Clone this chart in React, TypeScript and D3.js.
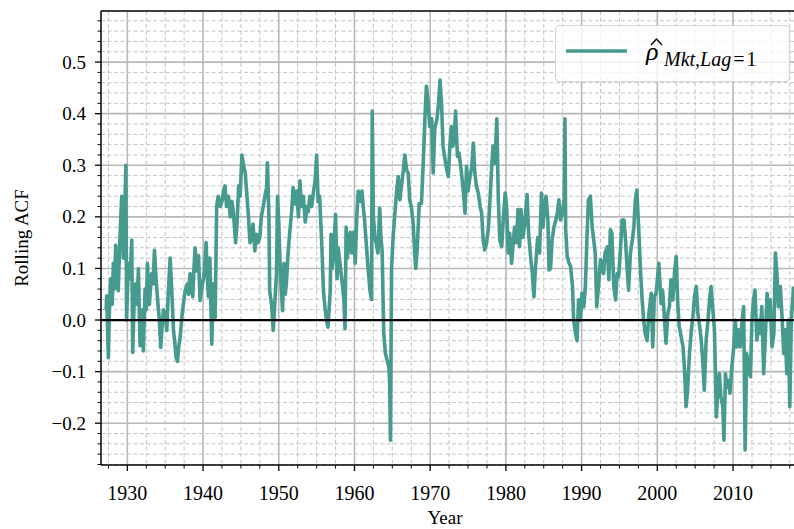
import React, { useEffect, useRef } from "react";
import * as d3 from "d3";

// Rolling lag-1 autocorrelation of the market return
// points are [year, acf]
const acf1927 = [
  [1927.2, 0.02], [1927.27, 0.047], [1927.49, -0.073], [1927.65, 0.03], [1927.8, 0.08],
  [1928.0, 0.03], [1928.15, 0.11], [1928.3, 0.06], [1928.46, 0.145], [1928.6, 0.09],
  [1928.8, 0.057], [1929.0, 0.15], [1929.25, 0.24], [1929.48, 0.12], [1929.65, 0.2],
  [1929.8, 0.3], [1929.9, 0.0], [1930.14, 0.11], [1930.35, 0.08], [1930.58, 0.155],
  [1930.71, -0.063], [1930.9, 0.04], [1931.1, 0.07], [1931.3, 0.03], [1931.46, 0.1],
  [1931.68, -0.05], [1931.85, 0.0], [1932.0, 0.02], [1932.12, -0.06], [1932.34, 0.06],
  [1932.5, 0.02], [1932.65, 0.11], [1932.91, 0.03], [1933.05, 0.06], [1933.22, 0.09],
  [1933.4, 0.07], [1933.58, 0.135], [1933.75, 0.09], [1933.89, 0.06], [1934.05, 0.03],
  [1934.2, 0.005], [1934.41, -0.053], [1934.6, -0.01], [1934.77, 0.02], [1935.0, 0.01],
  [1935.2, -0.02], [1935.4, 0.05], [1935.65, 0.12], [1935.87, 0.057], [1936.09, -0.02],
  [1936.25, -0.04], [1936.44, -0.073], [1936.62, -0.08], [1936.8, -0.05], [1936.97, -0.034],
  [1937.19, 0.005], [1937.4, 0.03], [1937.63, 0.057], [1937.94, 0.07], [1938.1, 0.05],
  [1938.29, 0.09], [1938.45, 0.07], [1938.64, 0.045], [1938.8, 0.1], [1938.95, 0.14],
  [1939.17, 0.095], [1939.4, 0.125], [1939.6, 0.038], [1939.8, 0.06], [1940.05, 0.08],
  [1940.2, 0.1], [1940.4, 0.15], [1940.55, 0.09], [1940.7, 0.045], [1940.9, 0.12],
  [1941.15, -0.047], [1941.37, 0.07], [1941.6, 0.005], [1941.8, 0.22],
];

const acf1942 = [
  [1942.0, 0.24], [1942.26, 0.22], [1942.5, 0.23], [1942.7, 0.25], [1942.9, 0.26],
  [1943.1, 0.22], [1943.35, 0.24], [1943.6, 0.2], [1943.8, 0.23], [1944.0, 0.21],
  [1944.3, 0.15], [1944.5, 0.19], [1944.7, 0.26], [1944.9, 0.24], [1945.13, 0.32],
  [1945.35, 0.3], [1945.57, 0.285], [1945.8, 0.24], [1946.0, 0.2], [1946.2, 0.15],
  [1946.4, 0.16], [1946.6, 0.186], [1946.84, 0.134], [1947.06, 0.166], [1947.28, 0.15],
  [1947.5, 0.16], [1947.7, 0.2], [1947.95, 0.22], [1948.17, 0.24], [1948.4, 0.257],
  [1948.5, 0.305], [1948.7, 0.2], [1948.8, 0.057], [1949.05, 0.03], [1949.27, -0.02],
  [1949.5, 0.037], [1949.7, 0.09], [1949.84, 0.24],
];

const acf1950 = [
  [1950.0, 0.19], [1950.15, 0.12], [1950.3, 0.07], [1950.5, 0.018], [1950.7, 0.11],
  [1950.85, 0.05], [1951.0, 0.07], [1951.25, 0.134], [1951.45, 0.17], [1951.7, 0.21],
  [1951.9, 0.257], [1952.1, 0.225], [1952.35, 0.25], [1952.6, 0.2], [1952.8, 0.27],
  [1953.0, 0.22], [1953.25, 0.24], [1953.5, 0.19], [1953.7, 0.22], [1953.9, 0.21],
  [1954.1, 0.24], [1954.35, 0.22], [1954.6, 0.25], [1954.8, 0.27], [1955.0, 0.32],
  [1955.2, 0.23], [1955.4, 0.24], [1955.7, 0.14], [1955.9, 0.057], [1956.1, 0.025],
  [1956.3, 0.0], [1956.5, -0.014], [1956.8, 0.057], [1956.9, 0.166], [1957.05, 0.1],
  [1957.2, 0.12], [1957.5, 0.205], [1957.7, 0.08], [1957.85, 0.14], [1958.0, 0.12],
  [1958.2, 0.095], [1958.4, 0.07], [1958.6, 0.04], [1958.75, -0.017], [1958.9, 0.18],
  [1959.05, 0.12], [1959.2, 0.147], [1959.45, 0.17], [1959.6, 0.13], [1959.85, 0.17],
  [1960.1, 0.11], [1960.3, 0.2], [1960.5, 0.25], [1960.75, 0.23], [1961.0, 0.25],
  [1961.15, 0.22], [1961.3, 0.2], [1961.6, 0.14], [1961.8, 0.1], [1962.05, 0.057],
  [1962.25, 0.04],
];

const acf1962 = [
  [1962.35, 0.405], [1962.5, 0.2], [1962.7, 0.16], [1962.9, 0.147], [1963.1, 0.13],
  [1963.33, 0.217], [1963.5, 0.16], [1963.65, 0.135], [1963.87, -0.026], [1964.09, -0.065],
  [1964.31, -0.078], [1964.53, -0.09], [1964.65, -0.12], [1964.75, -0.233], [1964.9, 0.1],
  [1965.1, 0.16], [1965.3, 0.2], [1965.55, 0.246], [1965.77, 0.278], [1966.0, 0.233],
  [1966.2, 0.26], [1966.45, 0.29], [1966.65, 0.32], [1966.9, 0.29], [1967.1, 0.285],
  [1967.3, 0.233], [1967.5, 0.22], [1967.75, 0.188], [1967.97, 0.123], [1968.1, 0.1],
  [1968.3, 0.14], [1968.55, 0.226], [1968.85, 0.226], [1969.1, 0.31], [1969.3, 0.39],
  [1969.5, 0.453], [1969.7, 0.427], [1969.95, 0.375],
];

const acf1970 = [
  [1970.2, 0.39], [1970.4, 0.285], [1970.6, 0.37], [1970.9, 0.39], [1971.1, 0.42],
  [1971.3, 0.465], [1971.5, 0.42], [1971.7, 0.337], [1971.9, 0.317], [1972.2, 0.29],
  [1972.4, 0.278], [1972.6, 0.337], [1972.8, 0.375], [1973.0, 0.337], [1973.2, 0.36],
  [1973.35, 0.405], [1973.6, 0.317], [1973.8, 0.324], [1974.1, 0.29], [1974.4, 0.246],
  [1974.6, 0.207], [1974.8, 0.298], [1975.0, 0.25], [1975.2, 0.272], [1975.5, 0.298],
  [1975.7, 0.343], [1975.9, 0.285], [1976.1, 0.26], [1976.35, 0.246], [1976.6, 0.22],
  [1976.8, 0.207], [1977.0, 0.155], [1977.2, 0.136], [1977.45, 0.149], [1977.7, 0.18],
  [1977.9, 0.233], [1978.1, 0.29], [1978.3, 0.337], [1978.55, 0.304], [1978.8, 0.39],
  [1979.0, 0.233], [1979.2, 0.155], [1979.45, 0.142], [1979.65, 0.194], [1979.9, 0.246],
  [1980.1, 0.22], [1980.3, 0.13], [1980.5, 0.168], [1980.75, 0.11], [1981.0, 0.155],
];

const acf1981 = [
  [1981.15, 0.18], [1981.4, 0.15], [1981.6, 0.214], [1981.8, 0.142], [1982.0, 0.214],
  [1982.25, 0.16], [1982.5, 0.188], [1982.8, 0.243], [1983.0, 0.168], [1983.3, 0.117],
  [1983.5, 0.09], [1983.7, 0.045], [1983.9, 0.1], [1984.2, 0.16], [1984.45, 0.13],
  [1984.7, 0.246], [1984.9, 0.18], [1985.1, 0.22], [1985.3, 0.24], [1985.55, 0.194],
  [1985.7, 0.097], [1985.9, 0.1], [1986.1, 0.155], [1986.35, 0.18], [1986.6, 0.194],
  [1986.8, 0.207], [1987.0, 0.233], [1987.2, 0.194], [1987.45, 0.207], [1987.7, 0.233],
  [1987.8, 0.39], [1987.9, 0.175], [1988.1, 0.123], [1988.35, 0.11], [1988.55, 0.104],
  [1988.8, 0.065], [1988.95, 0.0], [1989.2, -0.026], [1989.4, -0.04], [1989.6, 0.039],
  [1989.85, 0.0],
];

const acf1990 = [
  [1990.05, 0.052], [1990.3, 0.026], [1990.5, 0.065], [1990.7, 0.155], [1990.9, 0.233],
  [1991.15, 0.24], [1991.4, 0.18], [1991.6, 0.155], [1991.8, 0.13], [1992.0, 0.026],
  [1992.3, 0.078], [1992.5, 0.117], [1992.7, 0.104], [1992.9, 0.09], [1993.1, 0.13],
  [1993.4, 0.142], [1993.6, 0.078], [1993.8, 0.175], [1994.0, 0.168], [1994.25, 0.065],
  [1994.5, 0.039], [1994.7, 0.09], [1994.9, 0.084], [1995.1, 0.13], [1995.35, 0.194],
  [1995.6, 0.194], [1995.8, 0.155], [1996.0, 0.104], [1996.2, 0.058], [1996.45, 0.13],
  [1996.7, 0.155], [1996.9, 0.18], [1997.1, 0.233], [1997.3, 0.252], [1997.55, 0.175],
  [1997.8, 0.09], [1998.0, 0.039], [1998.2, 0.0], [1998.4, -0.026], [1998.65, -0.04],
  [1998.9, 0.013], [1999.2, 0.052], [1999.4, -0.052], [1999.6, 0.045], [1999.85, 0.052],
];

const acf2000 = [
  [2000.2, 0.11], [2000.5, 0.032], [2000.7, 0.058], [2000.9, 0.013], [2001.15, -0.045],
  [2001.4, 0.013], [2001.6, 0.026], [2001.8, 0.078], [2002.05, 0.039], [2002.3, 0.097],
  [2002.5, 0.123], [2002.7, 0.032], [2002.9, -0.013], [2003.15, -0.032], [2003.4, -0.052],
  [2003.6, -0.097], [2003.8, -0.168], [2004.0, -0.136], [2004.25, -0.065], [2004.5, -0.019],
  [2004.7, 0.006], [2004.9, 0.045], [2005.15, 0.065], [2005.35, 0.013], [2005.6, -0.013],
  [2005.8, -0.039], [2006.0, -0.078], [2006.2, -0.136], [2006.45, -0.039], [2006.7, 0.0],
  [2006.9, 0.039], [2007.1, 0.065], [2007.3, 0.026], [2007.55, -0.019], [2007.8, -0.188],
  [2008.0, -0.13], [2008.2, -0.104], [2008.4, -0.149], [2008.65, -0.168], [2008.8, -0.233],
  [2009.0, -0.104], [2009.2, -0.13], [2009.4, -0.117], [2009.6, -0.142], [2009.85, -0.09],
];

const acf2010 = [
  [2010.1, -0.052], [2010.3, 0.0], [2010.5, -0.052], [2010.7, -0.019], [2010.95, -0.052],
  [2011.2, 0.0], [2011.4, 0.026], [2011.6, -0.252], [2011.8, -0.065], [2012.05, -0.09],
  [2012.3, -0.11], [2012.5, 0.0], [2012.7, 0.039], [2012.9, 0.058], [2013.15, -0.039],
  [2013.4, 0.0], [2013.6, -0.026], [2013.8, 0.026], [2014.05, -0.104], [2014.25, -0.039],
  [2014.5, 0.052], [2014.7, 0.0], [2014.9, 0.039], [2015.15, -0.052], [2015.4, -0.026],
  [2015.6, 0.13], [2015.8, 0.09], [2016.0, 0.026], [2016.25, 0.065], [2016.5, 0.0],
  [2016.7, -0.065], [2016.9, -0.019], [2017.1, -0.104], [2017.3, 0.0], [2017.5, -0.168],
  [2017.7, 0.0], [2018.0, 0.065],
];

const series = [
  ...acf1927, ...acf1942, ...acf1950, ...acf1962, ...acf1970,
  ...acf1981, ...acf1990, ...acf2000, ...acf2010,
];

const xTicks = [1930, 1940, 1950, 1960, 1970, 1980, 1990, 2000, 2010];
const yTicks = [-0.2, -0.1, 0.0, 0.1, 0.2, 0.3, 0.4, 0.5];

const W = 794;
const H = 529;
const plot = { left: 101, right: 801, top: 11, bottom: 465 };
const lineColor = "#469a8e";
const font = "'Liberation Serif', 'DejaVu Serif', serif";

const App = () => {
  const svgRef = useRef<SVGSVGElement>(null);

  useEffect(() => {
    document.body.style.margin = "0";
    const svg = d3.select(svgRef.current);
    svg.selectAll("*").remove();

    const x = d3.scaleLinear().domain([1926.52, 2018.98]).range([plot.left, plot.right]);
    const y = d3.scaleLinear().domain([-0.281, 0.599]).range([plot.bottom, plot.top]);

    svg.append("rect").attr("width", W).attr("height", H).attr("fill", "#fff");

    svg.append("defs").append("clipPath").attr("id", "plotclip")
      .append("rect")
      .attr("x", plot.left).attr("y", plot.top)
      .attr("width", plot.right - plot.left).attr("height", plot.bottom - plot.top);

    // minor ticks: every 2.5 years / every 0.02
    const xMinor = d3.range(1927.5, 2019, 2.5).filter((d) => d % 10 !== 0);
    const yMinor = d3.range(-28, 60, 2).filter((d) => d % 10 !== 0).map((d) => d / 100);

    const grid = svg.append("g").attr("clip-path", "url(#plotclip)");

    grid.selectAll(".xminor").data(xMinor).enter().append("line")
      .attr("x1", (d) => x(d)).attr("x2", (d) => x(d))
      .attr("y1", plot.top).attr("y2", plot.bottom)
      .attr("stroke", "#c4c4c4").attr("stroke-width", 1)
      .attr("stroke-dasharray", "4,2.5");

    grid.selectAll(".yminor").data(yMinor).enter().append("line")
      .attr("x1", plot.left).attr("x2", plot.right)
      .attr("y1", (d) => y(d)).attr("y2", (d) => y(d))
      .attr("stroke", "#c4c4c4").attr("stroke-width", 1)
      .attr("stroke-dasharray", "4,2.5");

    grid.selectAll(".xmajor").data(xTicks).enter().append("line")
      .attr("x1", (d) => x(d)).attr("x2", (d) => x(d))
      .attr("y1", plot.top).attr("y2", plot.bottom)
      .attr("stroke", "#b8b8b8").attr("stroke-width", 1.6);

    grid.selectAll(".ymajor").data(yTicks).enter().append("line")
      .attr("x1", plot.left).attr("x2", plot.right)
      .attr("y1", (d) => y(d)).attr("y2", (d) => y(d))
      .attr("stroke", "#b8b8b8").attr("stroke-width", 1.6);

    // series
    const line = d3.line<number[]>()
      .x((d) => x(d[0]))
      .y((d) => y(d[1]));

    grid.append("path")
      .datum(series)
      .attr("fill", "none")
      .attr("stroke", lineColor)
      .attr("stroke-width", 3.6)
      .attr("stroke-linejoin", "round")
      .attr("d", line);

    // zero line
    grid.append("line")
      .attr("x1", plot.left).attr("x2", plot.right)
      .attr("y1", y(0)).attr("y2", y(0))
      .attr("stroke", "#000").attr("stroke-width", 2.2);

    // spines
    const spines = svg.append("g").attr("stroke", "#000").attr("stroke-width", 1.5);
    spines.append("line").attr("x1", plot.left).attr("x2", plot.left)
      .attr("y1", plot.top).attr("y2", plot.bottom);
    spines.append("line").attr("x1", plot.left).attr("x2", W)
      .attr("y1", plot.top).attr("y2", plot.top);
    spines.append("line").attr("x1", plot.left).attr("x2", W)
      .attr("y1", plot.bottom).attr("y2", plot.bottom);

    // x axis ticks and labels
    const xAxis = svg.append("g");
    xAxis.selectAll(".xt").data(xTicks).enter().append("line")
      .attr("x1", (d) => x(d)).attr("x2", (d) => x(d))
      .attr("y1", plot.bottom).attr("y2", plot.bottom + 6)
      .attr("stroke", "#000").attr("stroke-width", 1.3);
    xAxis.selectAll(".xm").data(xMinor.filter((d) => x(d) < W)).enter().append("line")
      .attr("x1", (d) => x(d)).attr("x2", (d) => x(d))
      .attr("y1", plot.bottom).attr("y2", plot.bottom + 3.5)
      .attr("stroke", "#000").attr("stroke-width", 1);
    xAxis.selectAll(".xl").data(xTicks).enter().append("text")
      .attr("x", (d) => x(d)).attr("y", plot.bottom + 35)
      .attr("text-anchor", "middle")
      .style("font-family", font).style("font-size", "20px")
      .text((d) => d);

    // y axis ticks and labels
    const yAxis = svg.append("g");
    yAxis.selectAll(".yt").data(yTicks).enter().append("line")
      .attr("x1", plot.left - 6).attr("x2", plot.left)
      .attr("y1", (d) => y(d)).attr("y2", (d) => y(d))
      .attr("stroke", "#000").attr("stroke-width", 1.3);
    yAxis.selectAll(".ym").data(yMinor).enter().append("line")
      .attr("x1", plot.left - 3.5).attr("x2", plot.left)
      .attr("y1", (d) => y(d)).attr("y2", (d) => y(d))
      .attr("stroke", "#000").attr("stroke-width", 1);
    yAxis.selectAll(".yl").data(yTicks).enter().append("text")
      .attr("x", plot.left - 15).attr("y", (d) => y(d) + 6.5)
      .attr("text-anchor", "end")
      .style("font-family", font).style("font-size", "19px")
      .text((d) => d3.format(".1f")(d).replace("-", "\u2212"));

    // axis titles
    svg.append("text")
      .attr("x", 445).attr("y", 524)
      .attr("text-anchor", "middle")
      .style("font-family", font).style("font-size", "19px")
      .text("Year");
    svg.append("text")
      .attr("transform", `translate(28, ${(plot.top + plot.bottom) / 2}) rotate(-90)`)
      .attr("text-anchor", "middle")
      .style("font-family", font).style("font-size", "19px")
      .text("Rolling ACF");

    // legend
    const lg = svg.append("g");
    lg.append("rect")
      .attr("x", 555.5).attr("y", 25.5).attr("width", 234).attr("height", 56)
      .attr("rx", 4).attr("fill", "#fff").attr("fill-opacity", 0.8)
      .attr("stroke", "#d6d6d6").attr("stroke-width", 1.2);
    lg.append("line")
      .attr("x1", 566).attr("x2", 627).attr("y1", 51).attr("y2", 51)
      .attr("stroke", lineColor).attr("stroke-width", 3.6);
    lg.append("text")
      .attr("x", 646).attr("y", 60)
      .style("font-family", font).style("font-size", "26px").style("font-style", "italic")
      .text("\u03c1");
    // circumflex over rho
    lg.append("path")
      .attr("d", "M651,45 L656.5,39 L662,45")
      .attr("fill", "none").attr("stroke", "#000").attr("stroke-width", 1.4);
    const sub = lg.append("text")
      .attr("x", 664).attr("y", 66)
      .style("font-family", font).style("font-size", "20px");
    sub.append("tspan").style("font-style", "italic").text("Mkt,Lag");
    sub.append("tspan").attr("dx", 2).text("=");
    sub.append("tspan").attr("dx", 2).text("1");
  }, []);

  return <svg ref={svgRef} width={W} height={H} style={{ display: "block" }} />;
};

export default App;
